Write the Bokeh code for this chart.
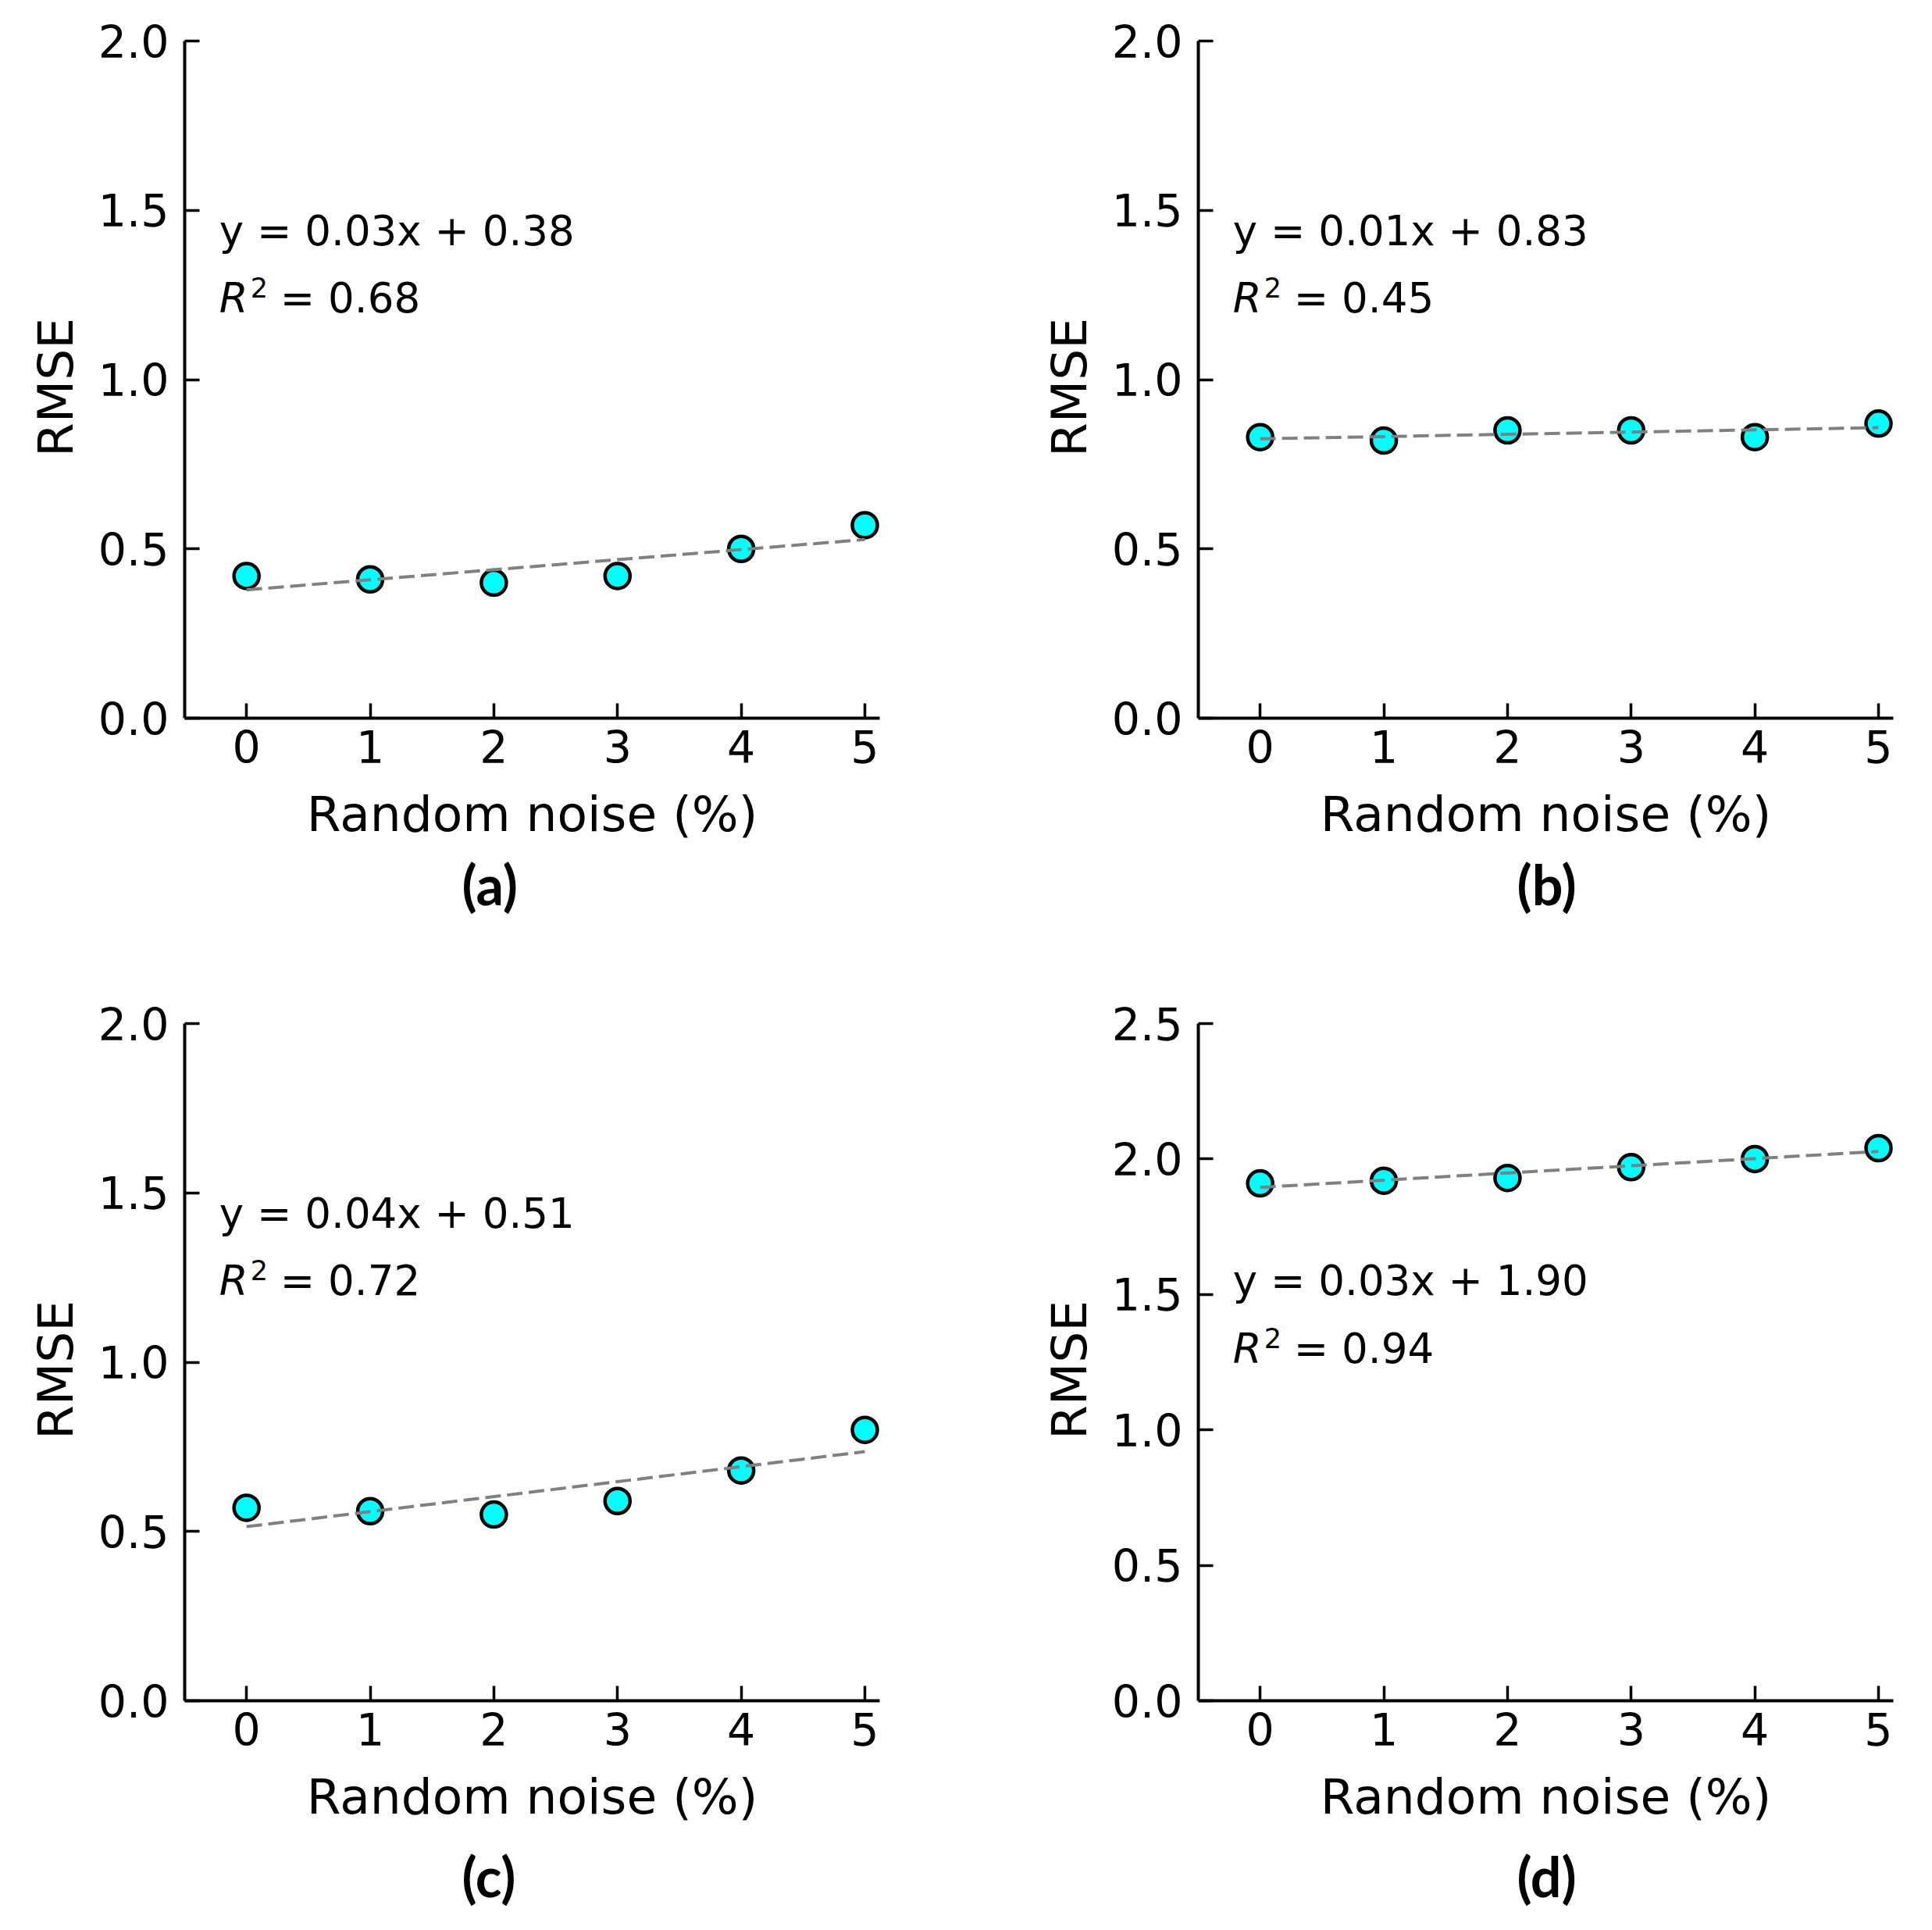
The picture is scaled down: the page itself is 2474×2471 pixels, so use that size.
import numpy as np
from bokeh.plotting import figure
from bokeh.layouts import column, row
from bokeh.models import Range1d, FixedTicker, PrintfTickFormatter, Title
from bokeh.core.properties import value
from bokeh.embed import file_html
from bokeh.resources import INLINE

# ---- data ----
noise = [0, 1, 2, 3, 4, 5]
rmse_a = [0.42, 0.41, 0.40, 0.42, 0.50, 0.57]
rmse_b = [0.83, 0.82, 0.85, 0.85, 0.83, 0.87]
rmse_c = [0.57, 0.56, 0.55, 0.59, 0.68, 0.80]
rmse_d = [1.91, 1.92, 1.93, 1.97, 2.00, 2.04]
eq_texts = ["y = 0.03x + 0.38", "y = 0.01x + 0.83", "y = 0.04x + 0.51", "y = 0.03x + 1.90"]
r2_texts = ["= 0.68", "= 0.45", "= 0.72", "= 0.94"]
panel_labels = ["(a)", "(b)", "(c)", "(d)"]
y_tops = [2.0, 2.0, 2.0, 2.5]
y_ticks_2 = [0.0, 0.5, 1.0, 1.5, 2.0]
y_ticks_25 = [0.0, 0.5, 1.0, 1.5, 2.0, 2.5]
x_label = "Random noise (%)"
y_label = "RMSE"

series = [rmse_a, rmse_b, rmse_c, rmse_d]
yticks = [y_ticks_2, y_ticks_2, y_ticks_2, y_ticks_25]
# text placement (data coords, vertical middle of the text lines)
eq_y = [1.44, 1.44, 1.44, 1.55]
r2_y = [1.24, 1.24, 1.24, 1.30]
# panel label placement (pixels)
lab_offset = [355, 408, 355, 408]
lab_standoff = [12, 12, 36, 36]

FONT = value("DejaVu Sans")
figs = []
for i in range(4):
    left_col = i in (0, 2)
    top_row = i in (0, 1)
    p = figure(
        frame_width=890, frame_height=867,
        x_range=Range1d(-0.5, 5.12), y_range=Range1d(0, y_tops[i]),
        output_backend="svg", toolbar_location=None,
        min_border_left=236 if left_col else 308,
        min_border_right=100 if left_col else 30,
        min_border_top=52,
        min_border_bottom=339 if top_row else 280,
        x_axis_label=x_label, y_axis_label=y_label + " ",
    )
    p.outline_line_color = None
    p.grid.visible = False
    p.background_fill_color = "white"
    p.border_fill_color = "white"

    p.xaxis.ticker = FixedTicker(ticks=noise)
    p.yaxis.ticker = FixedTicker(ticks=yticks[i])
    p.yaxis.formatter = PrintfTickFormatter(format="%.1f")
    for ax in (p.xaxis[0], p.yaxis[0]):
        ax.axis_line_width = 4
        ax.axis_line_color = "black"
        ax.major_tick_line_width = 3.5
        ax.major_tick_line_color = "black"
        ax.major_tick_in = 19
        ax.major_tick_out = 0
        ax.minor_tick_in = 0
        ax.minor_tick_out = 0
        ax.major_label_text_font = "DejaVu Sans"
        ax.major_label_text_font_size = "57px"
        ax.major_label_text_color = "black"
        ax.axis_label_text_font = "DejaVu Sans"
        ax.axis_label_text_font_size = "63px"
        ax.axis_label_text_font_style = "normal"
        ax.axis_label_text_color = "black"
    p.yaxis.major_label_standoff = 20
    p.xaxis.major_label_standoff = 15
    p.xaxis.axis_label_standoff = 26
    p.yaxis.axis_label_standoff = 15

    ys = series[i]
    p.scatter(noise, ys, size=32, fill_color="#00FFFF", line_color="black", line_width=4.5)
    m, b = np.polyfit(noise, ys, 1)
    xs_fit = [noise[0], noise[-1]]
    p.line(xs_fit, [m * xv + b for xv in xs_fit], line_color="#808080", line_width=4, line_dash="20 8")

    # equation text
    p.text(x=[-0.22], y=[eq_y[i]], text=[eq_texts[i]], text_font=FONT, text_font_size="53px",
           text_color="black", text_baseline="middle", text_align="left")
    # R^2 line
    p.text(x=[-0.22], y=[r2_y[i]], text=["R"], text_font=FONT, text_font_size="53px",
           text_font_style="italic", text_color="black", text_baseline="middle", text_align="left")
    p.text(x=[-0.22], y=[r2_y[i]], text=["2"], text_font=FONT, text_font_size="35px",
           x_offset=40, y_offset=-14, text_color="black", text_baseline="middle", text_align="left")
    p.text(x=[-0.22], y=[r2_y[i]], text=[r2_texts[i]], text_font=FONT, text_font_size="53px",
           x_offset=78, text_color="black", text_baseline="middle", text_align="left")
    # panel label below the x-axis label
    p.add_layout(Title(text=panel_labels[i], align="left", offset=lab_offset[i],
                       standoff=lab_standoff[i],
                       text_font="Lato", text_font_size="70px",
                       text_font_style="bold", text_color="black"), "below")
    figs.append(p)

layout = column(row(figs[0], figs[1]), row(figs[2], figs[3]))
open("out.html", "w").write(file_html(layout, INLINE))
